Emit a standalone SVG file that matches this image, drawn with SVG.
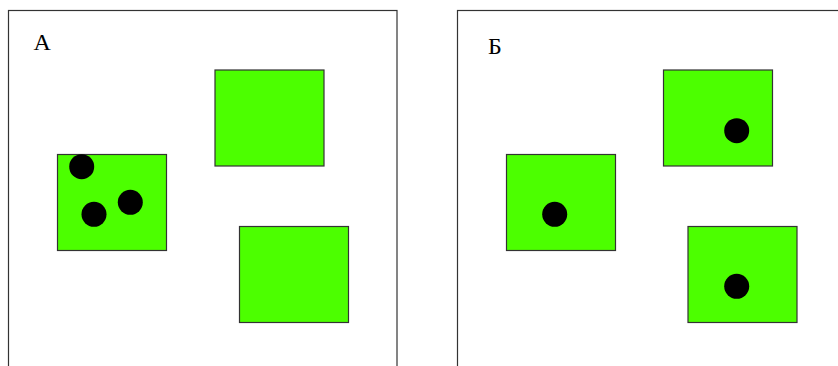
<svg xmlns="http://www.w3.org/2000/svg" width="838" height="366" viewBox="0 0 838 366">
<style>
.frame{fill:#fff;stroke:#333;stroke-width:1.2}
.cell{fill:#4cff00;stroke:#333;stroke-width:1.2}
.dot{fill:#000}
.lbl{font-family:"Liberation Serif",serif;font-size:24px;fill:#000}
</style>
<rect width="838" height="366" fill="#fff"/>
<g id="panelA">
<rect class="frame" x="8.5" y="10.5" width="388.5" height="370"/>
<text class="lbl" x="33.5" y="50">А</text>
<g id="A-cell1"><rect class="cell" x="57.5" y="154.5" width="109" height="96"/>
<circle class="dot" cx="81.7" cy="166.7" r="12.5"/>
<circle class="dot" cx="94" cy="214.3" r="12.5"/>
<circle class="dot" cx="130.3" cy="202.3" r="12.5"/></g>
<g id="A-cell2"><rect class="cell" x="215" y="70" width="109" height="96"/></g>
<g id="A-cell3"><rect class="cell" x="239.5" y="226.5" width="109" height="96"/></g>
</g>
<g id="panelB">
<rect class="frame" x="457.5" y="10.5" width="390" height="370"/>
<text class="lbl" x="488" y="54">Б</text>
<g id="B-cell1"><rect class="cell" x="506.5" y="154.5" width="109" height="96"/>
<circle class="dot" cx="554.7" cy="214.3" r="12.5"/></g>
<g id="B-cell2"><rect class="cell" x="663.5" y="70" width="109" height="96"/>
<circle class="dot" cx="736.7" cy="130.7" r="12.5"/></g>
<g id="B-cell3"><rect class="cell" x="688" y="226.5" width="109" height="96"/>
<circle class="dot" cx="736.7" cy="286.3" r="12.5"/></g>
</g>
<g id="connectors"/>
</svg>
